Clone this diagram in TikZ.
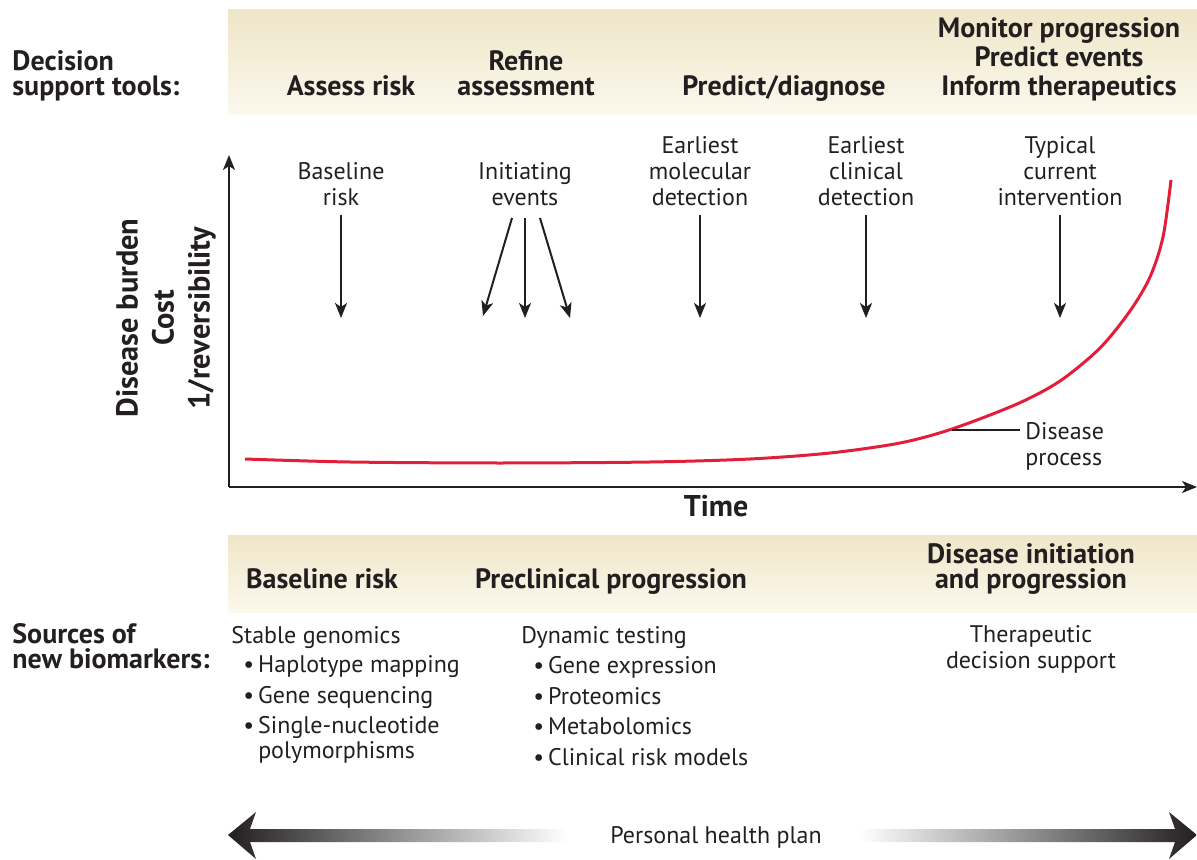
\documentclass[tikz,border=0pt]{standalone}
\usepackage{fontspec}
\setmainfont{PT Sans}
\usetikzlibrary{arrows.meta}

\definecolor{bandtop}{RGB}{239,230,200}
\definecolor{bandbot}{RGB}{251,248,237}
\definecolor{curvered}{RGB}{226,30,58}
\definecolor{ink}{RGB}{35,31,32}

\tikzset{
  head/.style={font=\bfseries\fontsize{14}{12.5}\selectfont, align=center, inner sep=0pt, text=ink},
  txt/.style={font=\fontsize{12}{13}\selectfont, align=center, inner sep=0pt, text=ink},
  band/.style={top color=bandtop, bottom color=bandbot, draw=none},
  down/.style={->, line width=1pt, draw=ink, shorten <=4pt},
  >={Stealth[length=7.5pt, width=6pt, inset=2pt]},
}

\begin{document}
\begin{tikzpicture}[x=0.5pt, y=-0.5pt]
\useasboundingbox (0,0) rectangle (1197,860);

% bands
\shade[band] (228,10) rectangle (1197,115);
\shade[band] (228,535) rectangle (1197,612);

% decision support tools
\node[head, anchor=base west, align=left] (tools) at (12,96) {Decision\\support tools:};
\node[head, anchor=base] (assess) at (351,96) {Assess risk};
\node[head, anchor=base] (refine) at (526,96) {Refine\\assessment};
\node[head, anchor=base] (predict) at (784,96) {Predict/diagnose};
\node[head, anchor=base, font=\bfseries\fontsize{14}{14.5}\selectfont] (monitor) at (1059,96) {Monitor progression\\Predict events\\Inform therapeutics};

% axes
\coordinate (origin) at (229,487);
\coordinate (ytop) at (229,155);
\coordinate (xend) at (1197,487);
\draw[->, line width=1pt, draw=ink] (origin) -- (ytop);
\draw[->, line width=1pt, draw=ink] (origin) -- (xend);
\node[head, anchor=base, font=\bfseries\fontsize{15}{16}\selectfont] (time) at (716,516) {Time};
\node[head, rotate=90, font=\bfseries\fontsize{15.2}{18}\selectfont] (burden) at (166,318) {Disease burden\\Cost\\1/reversibility};

% events
\node[txt, anchor=base] (baseline) at (341,206) {Baseline\\risk};
\node[txt, anchor=base] (initiating) at (525,206) {Initiating\\events};
\node[txt, anchor=base] (molecular) at (700,206) {Earliest\\molecular\\detection};
\node[txt, anchor=base] (clinical) at (866,206) {Earliest\\clinical\\detection};
\node[txt, anchor=base] (typical) at (1060,206) {Typical\\current\\intervention};

\coordinate (baseline-end) at (341,318);
\coordinate (ie-a) at (512,218);
\coordinate (ie-b) at (525,218);
\coordinate (ie-c) at (540,218);
\coordinate (ie-a-end) at (483,316);
\coordinate (ie-b-end) at (525,318);
\coordinate (ie-c-end) at (570,318);
\coordinate (molecular-end) at (700,318);
\coordinate (clinical-end) at (866,318);
\coordinate (typical-end) at (1060,318);

\draw[down] (baseline.south) -- (baseline-end);
\draw[down, shorten <=0pt] (ie-a) -- (ie-a-end);
\draw[down, shorten <=0pt] (ie-b) -- (ie-b-end);
\draw[down, shorten <=0pt] (ie-c) -- (ie-c-end);
\draw[down] (molecular.south) -- (molecular-end);
\draw[down] (clinical.south) -- (clinical-end);
\draw[down] (typical.south) -- (typical-end);

% disease process
\draw[curvered, line width=1.5pt] plot[smooth] coordinates {(245,459) (350,462) (500,463) (650,462) (750,459) (830,453) (900,443) (952,429) (1017,404) (1060,381) (1100,348) (1130,311) (1150,277) (1163,237) (1171,180)};
\coordinate (oncurve) at (952,430);
\node[txt, anchor=base west, align=left] (process) at (1025,465) {Disease\\process};
\draw[ink, line width=0.6pt] (oncurve) -- (1020,430);

% lower band
\node[head, anchor=base] (baserisk) at (322,588) {Baseline risk};
\node[head, anchor=base] (preclin) at (611,588) {Preclinical progression};
\node[head, anchor=base] (initprog) at (1031,588) {Disease initiation\\and progression};

% sources of new biomarkers
\node[head, anchor=base west, align=left] (sources) at (12,668) {Sources of\\new biomarkers:};
\node[txt, anchor=base west] (stable) at (231,643) {Stable genomics};
\node[txt, anchor=base west, align=left, font=\fontsize{12}{12.2}\selectfont] (stablelist) at (243,758)
  {\textbullet\,Haplotype mapping\\[3pt]\textbullet\,Gene sequencing\\[3pt]\textbullet\,Single-nucleotide\\\phantom{\textbullet\,}polymorphisms};
\node[txt, anchor=base west] (dynamic) at (521,643) {Dynamic testing};
\node[txt, anchor=base west, align=left, font=\fontsize{12}{12.2}\selectfont] (dynlist) at (533,765)
  {\textbullet\,Gene expression\\[3pt]\textbullet\,Proteomics\\[3pt]\textbullet\,Metabolomics\\[3pt]\textbullet\,Clinical risk models};
\node[txt, anchor=base] (therapeutic) at (1031,668) {Therapeutic\\decision support};

% personal health plan
\node[txt, anchor=base] (plan) at (716,843) {Personal health plan};
\shade[left color=ink, right color=white] (228,835) -- (256,812) -- (250,829) -- (566,829) -- (566,842) -- (250,842) -- (256,859) -- cycle;
\shade[left color=white, right color=ink] (1197,835) -- (1169,812) -- (1175,829) -- (860,829) -- (860,842) -- (1175,842) -- (1169,859) -- cycle;
\end{tikzpicture}
\end{document}
